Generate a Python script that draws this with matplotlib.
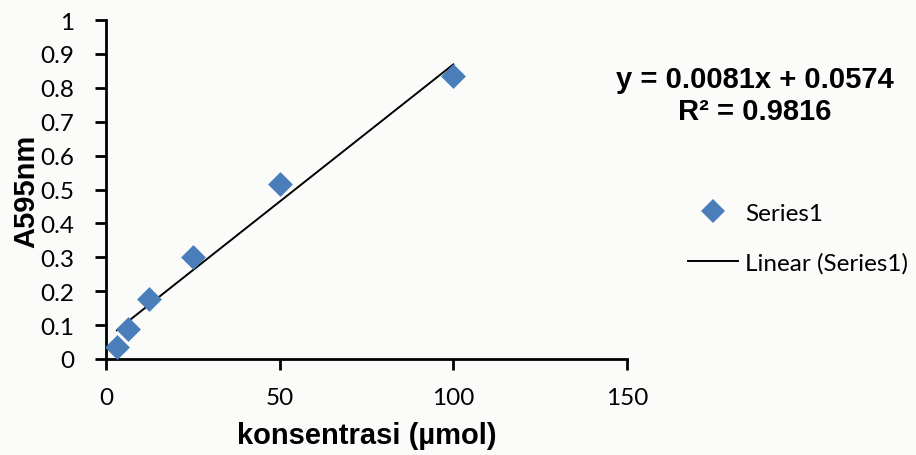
import numpy as np
import matplotlib
matplotlib.use("Agg")
import matplotlib.pyplot as plt
from matplotlib.lines import Line2D

# Data
konsentrasi = [3.125, 6.25, 12.5, 25, 50, 100]
absorbansi = [0.035, 0.088, 0.178, 0.300, 0.515, 0.835]
x_ticks = [0, 50, 100, 150]
y_ticks = [0, 0.1, 0.2, 0.3, 0.4, 0.5, 0.6, 0.7, 0.8, 0.9, 1]
y_ticklabels = ["0", "0.1", "0.2", "0.3", "0.4", "0.5", "0.6", "0.7", "0.8", "0.9", "1"]
equation_text = "y = 0.0081x + 0.0574\nR² = 0.9816"

bg = "#fbfcf9"
blue = "#4a7ebb"

fig = plt.figure(figsize=(9.16, 4.56), dpi=100, facecolor=bg)
ax = fig.add_axes([106/916, 96/456, 521/916, 339/456])
ax.set_facecolor(bg)

ax.scatter(konsentrasi, absorbansi, marker="D", s=160, color=blue, zorder=3, linewidths=0)

# linear trendline
coef = np.polyfit(konsentrasi, absorbansi, 1)
xs = np.array([min(konsentrasi), max(konsentrasi)])
ax.plot(xs, np.polyval(coef, xs), color="black", lw=1.4, zorder=2)

ax.set_xlim(0, 150)
ax.set_ylim(0, 1)
ax.set_xticks(x_ticks)
ax.set_yticks(y_ticks)
ax.set_yticklabels(y_ticklabels)
for s in ["top", "right"]:
    ax.spines[s].set_visible(False)
for s in ["left", "bottom"]:
    ax.spines[s].set_linewidth(2)
    ax.spines[s].set_color("black")
ax.tick_params(axis="both", direction="out", length=8, width=2, colors="black",
               labelsize=17.5, pad=12)
ax.tick_params(axis="y", pad=15)
for lab in ax.get_xticklabels() + ax.get_yticklabels():
    lab.set_fontfamily("Lato")

ax.set_xlabel("konsentrasi (µmol)", fontsize=21, fontweight="bold",
              family="Liberation Sans", va="center")
ax.set_ylabel("A595nm", fontsize=21, fontweight="bold",
              family="Liberation Sans", va="center")
ax.yaxis.set_label_coords(-(106-26)/521, (360-191)/339)
ax.xaxis.set_label_coords((367-106)/521, -(436-360)/339)

fig.text(755/916, 1 - 96/456, equation_text, ha="center", va="center",
         fontsize=21, fontweight="bold", family="Liberation Sans",
         linespacing=1.2)

handles = [Line2D([], [], marker="D", ls="none", color=blue, ms=12, mew=0),
           Line2D([], [], color="black", lw=1.4)]
leg = fig.legend(handles, ["Series1", "Linear (Series1)"],
                 loc="center left", bbox_to_anchor=(688/916, 1 - 239/456),
                 frameon=False, prop={"family": "Lato", "size": 17.5},
                 handlelength=2.05, handletextpad=0.3, labelspacing=1.15,
                 borderpad=0, borderaxespad=0)

fig.savefig("out.png", dpi=100, facecolor=bg)
